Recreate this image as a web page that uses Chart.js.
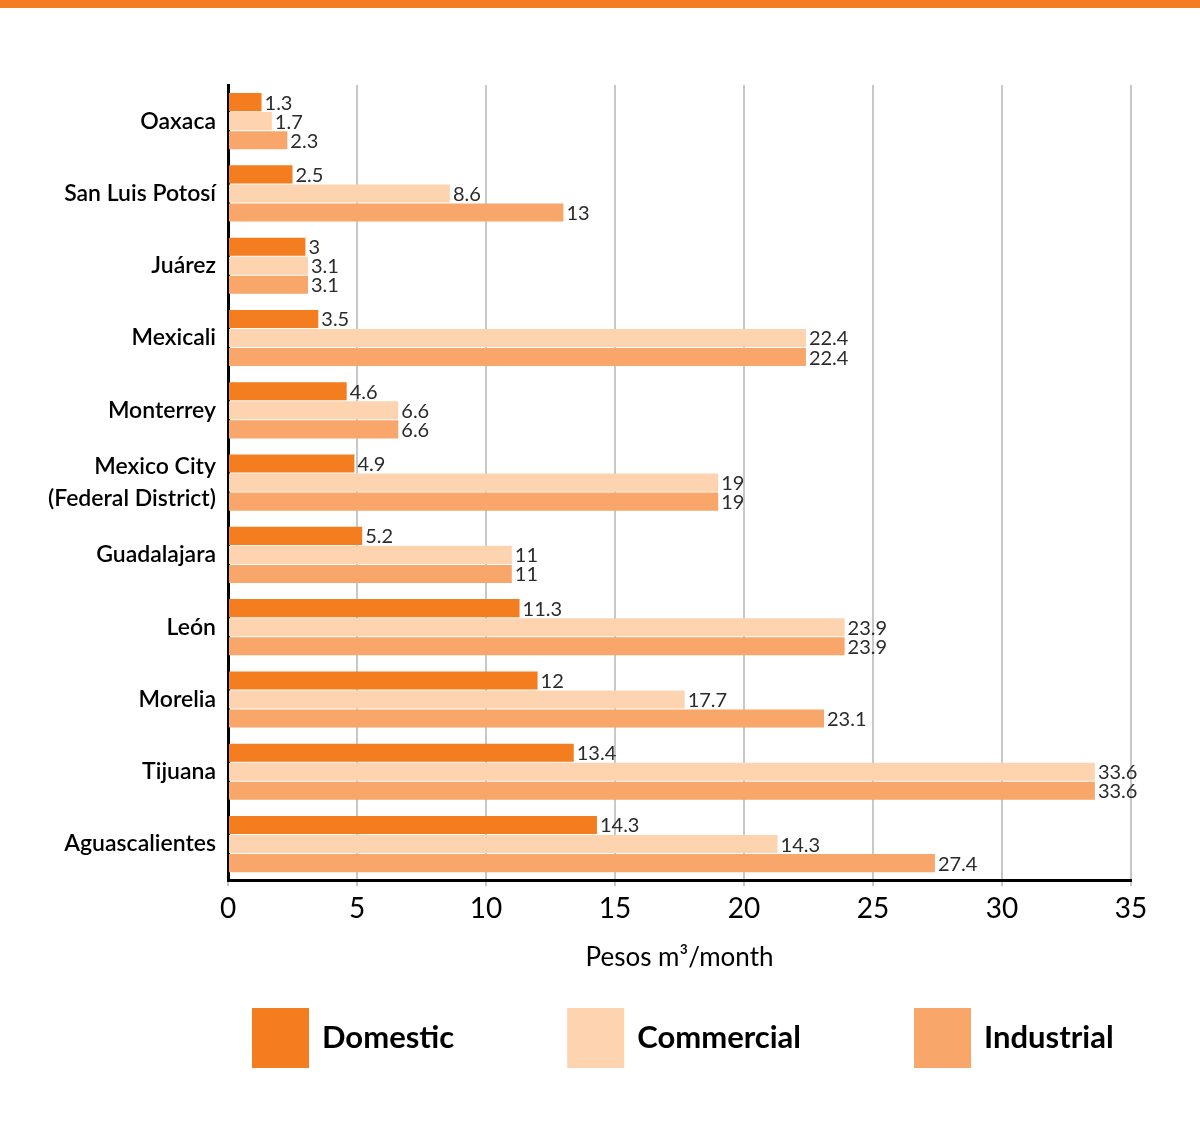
<!DOCTYPE html>
<html>
<head>
<meta charset="utf-8">
<title>Water tariffs by city</title>
<script src="https://cdn.jsdelivr.net/npm/chart.js@4"></script>
<style>
  body { margin: 0; background: #fff; }
  canvas { display: block; }
</style>
</head>
<body>
<canvas id="chart" width="1200" height="1123"></canvas>
<script>
// data
const cities = ['Oaxaca', 'San Luis Potosí', 'Juárez', 'Mexicali', 'Monterrey',
    ['Mexico City', '(Federal District)'], 'Guadalajara', 'León', 'Morelia', 'Tijuana', 'Aguascalientes'];
const domestic = [1.3, 2.5, 3, 3.5, 4.6, 4.9, 5.2, 11.3, 12, 13.4, 14.3];
const commercial = [1.7, 8.6, 3.1, 22.4, 6.6, 19, 11, 23.9, 17.7, 33.6, 21.3];
const industrial = [2.3, 13, 3.1, 22.4, 6.6, 19, 11, 23.9, 23.1, 33.6, 27.4];
// the source prints 14.3 next to the Aguascalientes commercial bar, which is drawn at ~21.3
const commercialLabels = ['1.7', '8.6', '3.1', '22.4', '6.6', '19', '11', '23.9', '17.7', '33.6', '14.3'];
const xTicks = [0, 5, 10, 15, 20, 25, 30, 35];

const ORANGE = '#F47D20';
const PALE = '#FDD3B0';
const MID = '#F8A66A';
const FONT = 'Lato, "Open Sans", sans-serif';

// top band + value labels + custom legend
const extras = {
    id: 'extras',
    beforeDraw(chart) {
        const ctx = chart.ctx;
        ctx.save();
        ctx.fillStyle = '#fff';
        ctx.fillRect(0, 0, chart.width, chart.height);
        ctx.fillStyle = ORANGE;
        ctx.fillRect(0, 0, chart.width, 8);
        ctx.restore();
    },
    afterDatasetsDraw(chart) {
        const ctx = chart.ctx;
        ctx.save();
        ctx.font = '20px ' + FONT;
        ctx.fillStyle = '#2b2b2b';
        ctx.textAlign = 'left';
        ctx.textBaseline = 'middle';
        chart.data.datasets.forEach((ds, i) => {
            chart.getDatasetMeta(i).data.forEach((bar, j) => {
                const txt = ds.valueLabels ? ds.valueLabels[j] : String(ds.data[j]);
                ctx.fillText(txt, bar.x + 3, bar.y + 1);
            });
        });
        ctx.restore();
    },
    afterDraw(chart) {
        const ctx = chart.ctx;
        ctx.save();
        ctx.font = 'bold 31px ' + FONT;
        ctx.textBaseline = 'middle';
        let x = 252;
        const y = 1008;
        chart.data.datasets.forEach(ds => {
            ctx.fillStyle = ds.backgroundColor;
            ctx.fillRect(x, y, 57, 60);
            ctx.fillStyle = '#000';
            ctx.fillText(ds.label, x + 57 + 13, y + 30);
            x += 57 + 13 + ctx.measureText(ds.label).width + 113;
        });
        ctx.restore();
    }
};

new Chart(document.getElementById('chart'), {
    type: 'bar',
    data: {
        labels: cities,
        datasets: [
            { label: 'Domestic', data: domestic, backgroundColor: ORANGE },
            { label: 'Commercial', data: commercial, backgroundColor: PALE, valueLabels: commercialLabels },
            { label: 'Industrial', data: industrial, backgroundColor: MID }
        ]
    },
    options: {
        indexAxis: 'y',
        responsive: false,
        animation: false,
        categoryPercentage: 0.79,
        barPercentage: 0.95,
        layout: { padding: { top: 85, right: 69, bottom: 150, left: 0 } },
        plugins: {
            legend: { display: false },
            tooltip: { enabled: false }
        },
        scales: {
            x: {
                min: 0,
                max: 35,
                afterBuildTicks: scale => { scale.ticks = xTicks.map(v => ({ value: v })); },
                grid: { color: '#c8c8c8', lineWidth: 2, tickLength: 6 },
                border: { color: '#000', width: 3 },
                ticks: { color: '#000', font: { family: FONT, size: 28 }, padding: 6, maxRotation: 0 },
                title: {
                    display: true,
                    text: 'Pesos m³/month',
                    color: '#000',
                    font: { family: FONT, size: 26 },
                    padding: { top: 10, bottom: 0 }
                }
            },
            y: {
                afterFit: scale => { scale.width = 228; },
                grid: { display: false },
                border: { color: '#000', width: 3 },
                ticks: {
                    color: '#000',
                    font: { family: FONT, size: 23, weight: 600, lineHeight: 1.35 },
                    padding: 4,
                    autoSkip: false
                }
            }
        }
    },
    plugins: [extras]
});
</script>
</body>
</html>
